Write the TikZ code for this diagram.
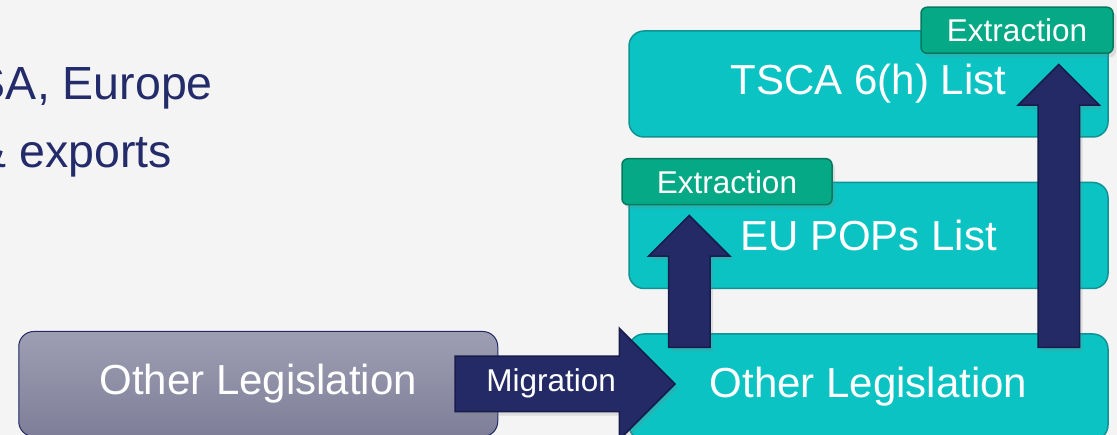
\documentclass[tikz,border=0pt]{standalone}
\usepackage{fontspec}
\setmainfont{Liberation Sans}
\usepackage{xcolor}
\usepackage{tikz}
\usetikzlibrary{arrows.meta,positioning,shapes.arrows,shadows,calc}

\definecolor{pagebg}{HTML}{F4F4F4}
\definecolor{listfill}{HTML}{0CC3C3}
\definecolor{listline}{HTML}{0F9394}
\definecolor{oldtop}{HTML}{9E9EB3}
\definecolor{oldbottom}{HTML}{7E7E99}
\definecolor{tagfill}{HTML}{06A985}
\definecolor{tagline}{HTML}{057A5F}
\definecolor{navy}{HTML}{242A66}
\definecolor{navyline}{HTML}{171C4C}
\definecolor{headnavy}{HTML}{232B6B}

\begin{document}
\begin{tikzpicture}[x=1pt,y=-1pt,
  listbox/.style={draw=listline, line width=1.5pt, fill=listfill, rounded corners=15pt,
    minimum width=479pt, minimum height=106pt, text=white,
    font=\fontsize{42}{50}\selectfont},
  oldbox/.style={listbox, draw=navy, line width=1pt, top color=oldtop,
    bottom color=oldbottom, minimum height=105pt},
  tagbox/.style={draw=tagline, line width=1.5pt, fill=tagfill, rounded corners=6pt,
    minimum width=192pt, minimum height=46pt, inner sep=0pt, text=white,
    font=\fontsize{31.5}{36}\selectfont,
    drop shadow={shadow xshift=3pt, shadow yshift=-4pt, opacity=0.2}},
  blockarrow/.style={single arrow, draw=navyline, line width=1.5pt, fill=navy,
    single arrow tip angle=90, text=white,
    font=\fontsize{31.5}{36}\selectfont,
    drop shadow={shadow xshift=3pt, shadow yshift=-4pt, opacity=0.2}},
  headline/.style={text=headnavy, inner sep=0pt, anchor=base east,
    font=\fontsize{46.5}{56}\selectfont}]
% page
\fill[pagebg] (0,0) rectangle (1117,435);
\useasboundingbox (0,0) rectangle (1117,435);
\clip (0,0) rectangle (1117,435);
% heading text
\node[headline] (line1) at (213,100) {USA, Europe};
\node[headline] (line2) at (172,168) {\& exports};
% lists
\node[listbox] (tsca) at (868.5,84) {TSCA 6(h) List};
\node[listbox, below=44pt of tsca] (pops) {EU POPs List};
\node[listbox, below=44pt of pops] (olr) {Other Legislation};
\node[oldbox, left=130pt of olr, yshift=3pt] (oll) {Other Legislation};
% arrows
\node[blockarrow, text height=22pt, text depth=7pt, inner xsep=2pt, inner ysep=12.5pt,
  minimum height=220pt, single arrow head extend=28pt, anchor=tail] (migr)
  at ($(oll.east)+(-44,0)$) {Migration};
\node[blockarrow, inner sep=20pt, minimum height=132pt,
  single arrow head extend=20pt, shape border rotate=90, anchor=tail] (popsup)
  at ($(olr.north west)+(61,15)$) {};
\node[blockarrow, inner sep=20pt, minimum height=283pt,
  single arrow head extend=20pt, shape border rotate=90, anchor=tail] (tscaup)
  at ($(olr.north east)+(-50,15)$) {};
% tags
\node[tagbox, anchor=east, xshift=5pt] (tag1) at (tsca.north east) {Extraction};
\node[tagbox, minimum width=210pt, anchor=west, xshift=-7pt] (tag2)
  at (pops.north west) {Extraction};
\end{tikzpicture}
\end{document}
